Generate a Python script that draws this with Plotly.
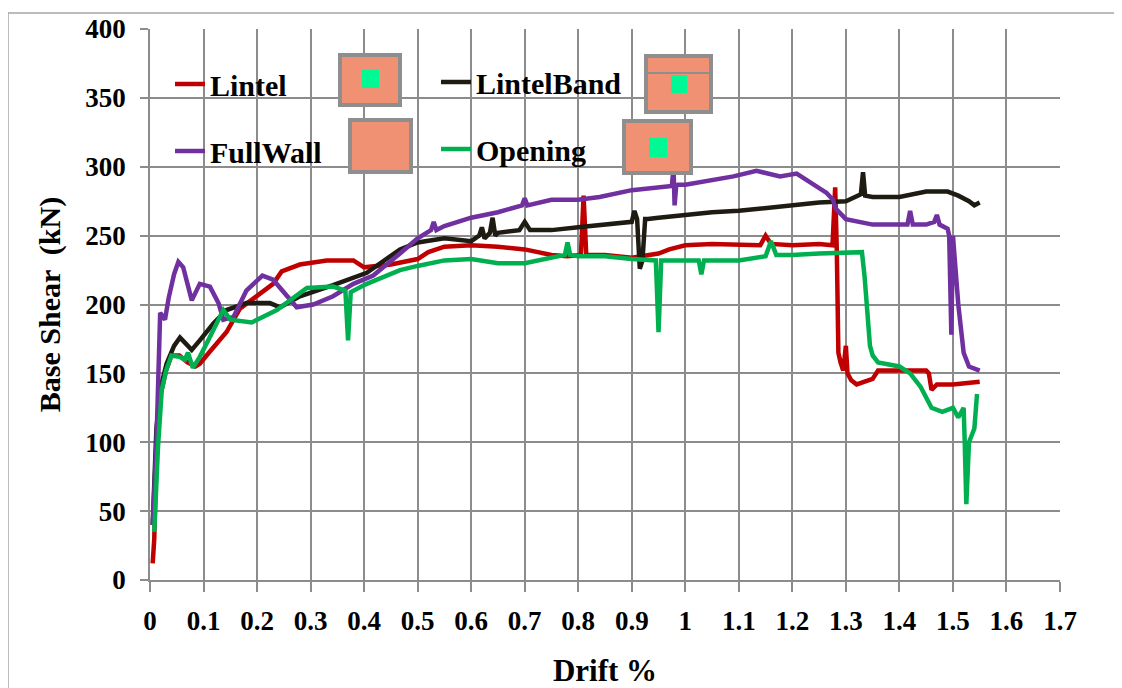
import plotly.graph_objects as go

# ---------------- data ----------------
lintel_x = [0.005, 0.008, 0.012, 0.02, 0.03, 0.04, 0.055, 0.07, 0.085, 0.093, 0.11, 0.125, 0.143, 0.168, 0.2, 0.23,
            0.246, 0.28, 0.33, 0.38, 0.40, 0.45, 0.5, 0.52, 0.55, 0.6, 0.65, 0.7, 0.75, 0.78, 0.805, 0.81, 0.815,
            0.85, 0.9, 0.92, 0.95, 0.97, 1.0, 1.05, 1.1, 1.14, 1.15, 1.16, 1.2, 1.25, 1.275, 1.28, 1.283, 1.286,
            1.29, 1.295, 1.30, 1.303, 1.31, 1.32, 1.35, 1.36, 1.4, 1.45, 1.455, 1.46, 1.47, 1.5, 1.55]
lintel_y = [12, 30, 100, 135, 152, 163, 163, 158, 155, 157, 165, 172, 180, 197, 206, 215,
            224, 229, 232, 232, 227, 229, 233, 238, 242, 243, 242, 240, 236, 235, 236, 279, 236,
            236, 234, 235, 237, 240, 243, 244, 243, 243, 250, 244, 243, 244, 243, 285, 240, 165,
            158, 152, 170, 150, 145, 142, 146, 152, 152, 152, 150, 138, 142, 142, 144]

band_x = [0.005, 0.012, 0.02, 0.031, 0.045, 0.056, 0.066, 0.078, 0.093, 0.118, 0.143, 0.18, 0.224, 0.243, 0.28,
          0.342, 0.405, 0.467, 0.5, 0.55, 0.6, 0.615, 0.62, 0.625, 0.635, 0.64, 0.645, 0.65, 0.69, 0.70, 0.71,
          0.75, 0.8, 0.85, 0.9, 0.905, 0.91, 0.915, 0.92, 0.925, 0.93, 0.95, 1.0, 1.05, 1.1, 1.15, 1.2, 1.25,
          1.3, 1.32, 1.328, 1.332, 1.336, 1.35, 1.4, 1.45, 1.49, 1.51, 1.53, 1.54, 1.55]
band_y = [40, 110, 140, 157, 170, 176, 172, 167, 174, 186, 196, 201, 201, 198, 206,
          214, 223, 240, 245, 248, 246, 250, 256, 248, 252, 263, 250, 252, 254, 260, 254,
          254, 256, 258, 260, 268, 262, 226, 232, 262, 262, 263, 265, 267, 268, 270, 272, 274,
          275, 278, 280, 296, 279, 278, 278, 282, 282, 279, 275, 272, 274]

full_x = [0.005, 0.012, 0.019, 0.028, 0.035, 0.045, 0.053, 0.062, 0.078, 0.093, 0.112, 0.128, 0.137, 0.156, 0.18,
          0.21, 0.23, 0.255, 0.274, 0.305, 0.342, 0.38, 0.417, 0.467, 0.5, 0.525, 0.53, 0.535, 0.55, 0.6, 0.65,
          0.695, 0.70, 0.705, 0.75, 0.8, 0.84, 0.9, 0.95, 0.975, 0.978, 0.98, 0.983, 0.986, 1.0, 1.05, 1.09,
          1.133, 1.177, 1.208, 1.227, 1.264, 1.276, 1.28, 1.3, 1.35, 1.4, 1.415, 1.42, 1.425, 1.45, 1.465, 1.47,
          1.475, 1.49, 1.493, 1.497, 1.50, 1.51, 1.52, 1.53, 1.55]
full_y = [40, 99, 194, 189, 205, 222, 231, 227, 203, 215, 213, 201, 189, 191, 210,
          221, 218, 206, 198, 200, 206, 215, 221, 237, 248, 254, 260, 254, 257, 263, 267,
          272, 277, 272, 276, 276, 278, 283, 285, 286, 300, 272, 286, 287, 287, 290, 293,
          297, 293, 295, 290, 281, 276, 270, 262, 258, 258, 258, 268, 258, 258, 260, 265,
          258, 255, 250, 178, 250, 200, 165, 155, 152]

open_x = [0.008, 0.015, 0.022, 0.03, 0.04, 0.055, 0.065, 0.071, 0.08, 0.093, 0.11, 0.125, 0.137, 0.15, 0.19,
          0.237, 0.262, 0.293, 0.342, 0.365, 0.37, 0.375, 0.405, 0.467, 0.5, 0.55, 0.6, 0.65, 0.7, 0.75,
          0.775, 0.78, 0.785, 0.8, 0.85, 0.9, 0.945, 0.95, 0.955, 1.0, 1.025, 1.03, 1.035, 1.05, 1.1, 1.15,
          1.16, 1.17, 1.2, 1.25, 1.3, 1.33, 1.335, 1.34, 1.345, 1.35, 1.36, 1.4, 1.42, 1.44, 1.46, 1.48, 1.5,
          1.51, 1.52, 1.522, 1.525, 1.53, 1.54, 1.545]
open_y = [35, 97, 138, 152, 163, 162, 160, 165, 154, 162, 175, 186, 196, 189, 187,
          196, 203, 212, 213, 210, 174, 209, 215, 225, 228, 232, 233, 230, 230, 234,
          236, 245, 236, 235, 235, 233, 232, 180, 232, 232, 232, 222, 232, 232, 232, 235,
          246, 236, 236, 237, 238, 238, 220, 190, 170, 163, 158, 155, 150, 140, 125, 122, 125,
          118, 125, 100, 55, 100, 110, 135]

series_names = ["Lintel", "LintelBand", "FullWall", "Opening"]
series_colors = ["#C00000", "#1E1B12", "#7030A0", "#00B050"]

x_ticks = [0, 0.1, 0.2, 0.3, 0.4, 0.5, 0.6, 0.7, 0.8, 0.9, 1, 1.1, 1.2, 1.3, 1.4, 1.5, 1.6, 1.7]
x_tick_labels = ["0", "0.1", "0.2", "0.3", "0.4", "0.5", "0.6", "0.7", "0.8", "0.9", "1",
                 "1.1", "1.2", "1.3", "1.4", "1.5", "1.6", "1.7"]
y_ticks = [0, 50, 100, 150, 200, 250, 300, 350, 400]

# ---------------- figure ----------------
FONT = "Liberation Serif"
OFF = 8                       # page body margin of the browser
W, H = 1122 - OFF, 688 - OFF
# plot area in reference pixels: x 150..1060, y 29..580
L, T = 150 - OFF, 29 - OFF
R, B = W - (1060 - OFF), H - (580 - OFF)
PW, PH = W - L - R, H - T - B


def px(xp):
    return (xp - OFF - L) / PW


def py(yp):
    return (H - B - (yp - OFF)) / PH


fig = go.Figure()
data = [(lintel_x, lintel_y), (band_x, band_y), (full_x, full_y), (open_x, open_y)]
legend_of = {"Lintel": "legend", "FullWall": "legend", "LintelBand": "legend2", "Opening": "legend2"}
for (xs, ys), name, col in zip(data, series_names, series_colors):
    fig.add_trace(go.Scatter(x=xs, y=ys, mode="lines", name=name, legendgroup=name,
                             legend=legend_of[name],
                             line=dict(color=col, width=4.5)))

legend_style = dict(font=dict(family=FONT, size=30, color="black", weight="bold"),
                    bgcolor="rgba(0,0,0,0)", borderwidth=0, tracegroupgap=25,
                    traceorder="grouped", xanchor="left", yanchor="top", itemwidth=30)

fig.update_layout(
    width=W, height=H,
    margin=dict(l=L, r=R, t=T, b=B, autoexpand=False),
    paper_bgcolor="white", plot_bgcolor="white",
    font=dict(family=FONT, color="black"),
    legend=dict(x=px(170), y=py(58), **legend_style),
    legend2=dict(x=px(436), y=py(56), **legend_style),
    xaxis=dict(range=[0, 1.7], tickvals=x_ticks, ticktext=x_tick_labels,
               showgrid=True, gridcolor="#8C8C8C", gridwidth=1.5,
               showline=True, linecolor="#8C8C8C", linewidth=1.5,
               ticks="outside", ticklen=10, tickcolor="#8C8C8C", tickwidth=1.5,
               ticklabelstandoff=6, zeroline=False,
               tickfont=dict(family=FONT, size=27, color="black", weight="bold"),
               title=dict(text="Drift %", standoff=27,
                          font=dict(family=FONT, size=31, color="black", weight="bold"))),
    yaxis=dict(range=[0, 400], tickvals=y_ticks,
               showgrid=True, gridcolor="#8C8C8C", gridwidth=1.5,
               showline=True, linecolor="#8C8C8C", linewidth=1.5,
               ticks="outside", ticklen=8, tickcolor="#8C8C8C", tickwidth=1.5,
               ticklabelstandoff=9, zeroline=False,
               tickfont=dict(family=FONT, size=27, color="black", weight="bold"),
               title=dict(text="Base Shear  (kN)", standoff=16,
                          font=dict(family=FONT, size=30, color="black", weight="bold"))),
)

shapes = []
# outer frame
shapes.append(dict(type="rect", xref="paper", yref="paper", x0=px(8), x1=px(1117), y0=py(720), y1=py(13),
                   line=dict(color="#A6A6A6", width=1.5), fillcolor="rgba(0,0,0,0)", layer="below"))
# decorative salmon boxes in the legend area (reference pixel boxes)
boxes = [(340, 55, 400, 105), (350, 120, 411, 172), (646, 56, 711, 112), (624, 121, 691, 173)]
greens = [(362, 70, 379, 88), None, (671, 75, 687, 93), (649, 138, 667, 157)]
for (x0, y0, x1, y1), g in zip(boxes, greens):
    shapes.append(dict(type="rect", xref="paper", yref="paper", x0=px(x0), x1=px(x1), y0=py(y1), y1=py(y0),
                       line=dict(color="#8E8E8E", width=4), fillcolor="#EF9172", layer="above"))
    if g:
        shapes.append(dict(type="rect", xref="paper", yref="paper", x0=px(g[0]), x1=px(g[2]),
                           y0=py(g[3]), y1=py(g[1]), line=dict(width=0), fillcolor="#00F995", layer="above"))
shapes.append(dict(type="line", xref="paper", yref="paper", x0=px(648), x1=px(709), y0=py(73), y1=py(73),
                   line=dict(color="#8E8E8E", width=2), layer="above"))
fig.update_layout(shapes=shapes)

fig.write_html("out.html")
